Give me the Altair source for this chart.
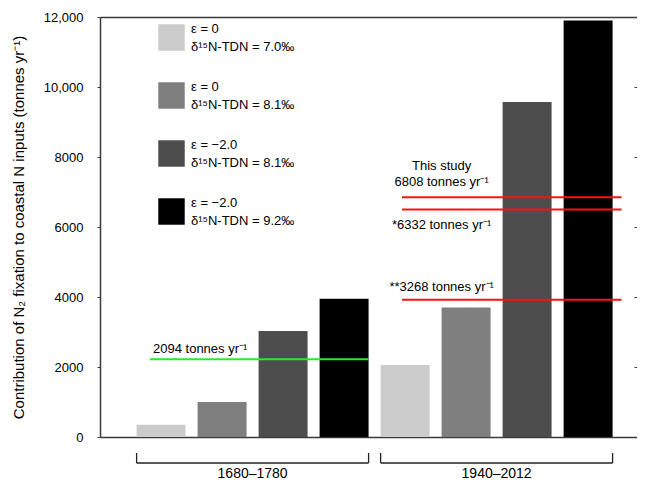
import altair as alt
import pandas as pd

# ---- data ----
periods = ["1680–1780", "1940–2012"]
scenarios = [
    "ε = 0|δ¹⁵N-TDN = 7.0‰",
    "ε = 0|δ¹⁵N-TDN = 8.1‰",
    "ε = −2.0|δ¹⁵N-TDN = 8.1‰",
    "ε = −2.0|δ¹⁵N-TDN = 9.2‰",
]
values_1680_1780 = [350, 1000, 3030, 3950]
values_1940_2012 = [2060, 3700, 9570, 11900]
bar_colors = ["#cbcbcb", "#7f7f7f", "#4d4d4d", "#000000"]

red_line_values = [6850, 6500, 3920]
green_line_values = [2220]
red_labels = ["This study", "6808 tonnes yr⁻¹", "*6332 tonnes yr⁻¹", "**3268 tonnes yr⁻¹"]
red_label_y = [7740, 7290, 6060, 4290]
green_labels = ["2094 tonnes yr⁻¹"]
green_label_y = [2510]
y_ticks = [0, 2000, 4000, 6000, 8000, 10000, 12000]
y_title = "Contribution of N₂ fixation to coastal N inputs (tonnes yr⁻¹)"

FONT = "Liberation Sans"

# ---- tables ----
rows = []
bar_order = []
for p, vals in zip(periods, [values_1680_1780, values_1940_2012]):
    for i, (s, v) in enumerate(zip(scenarios, vals)):
        key = f"{p} #{i + 1}"
        bar_order.append(key)
        rows.append({"bar": key, "period": p, "scenario": s, "value": v})
bars_df = pd.DataFrame(rows)

groups_df = pd.DataFrame({
    "period": periods,
    "first": [bar_order[0], bar_order[4]],
    "second": [bar_order[1], bar_order[5]],
    "last": [bar_order[3], bar_order[7]],
})

red_df = pd.DataFrame({"y": red_line_values, "start": bar_order[4], "end": bar_order[7]})
green_df = pd.DataFrame({"y": green_line_values, "start": bar_order[0], "end": bar_order[3]})
red_text_df = pd.DataFrame({"label": red_labels, "y": red_label_y, "bar": bar_order[5]})
green_text_df = pd.DataFrame({"label": green_labels, "y": green_label_y, "bar": bar_order[0]})

xscale = alt.Scale(domain=bar_order, paddingInner=0.197, paddingOuter=0.5, align=0.6)
yscale = alt.Scale(domain=[0, 12000], nice=False)

AX = "#3a3a3a"

bars = alt.Chart(bars_df).mark_bar().encode(
    x=alt.X("bar:N", scale=xscale, sort=bar_order,
            axis=alt.Axis(orient="bottom", labels=False, ticks=False, domain=True,
                          domainColor=AX, domainWidth=1.5, title=None)),
    y=alt.Y("value:Q", scale=yscale,
            axis=alt.Axis(values=y_ticks,
                          labelExpr="datum.value >= 10000 ? format(datum.value, ',') : format(datum.value, 'd')",
                          tickSize=3, labelPadding=14, labelFontSize=13, labelColor="#000",
                          tickColor=AX, domainColor=AX, domainWidth=1.5,
                          grid=False, title=y_title, titleFontSize=15, titleFontWeight="normal",
                          titleColor="#000", titlePadding=17)),
    color=alt.Color("scenario:N", scale=alt.Scale(domain=scenarios, range=bar_colors),
                    legend=alt.Legend(orient="none", legendX=58, legendY=7, title=None,
                                      symbolType="square", symbolSize=700, symbolStrokeWidth=0,
                                      symbolOpacity=1,
                                      labelExpr="split(datum.label, '|')",
                                      labelBaseline="line-bottom",
                                      labelFontSize=13, labelFont=FONT, labelColor="#000",
                                      labelOffset=6, rowPadding=26, padding=0,
                                      labelLimit=300)),
)

red_lines = alt.Chart(red_df).mark_rule(color="#ff1010", strokeWidth=2, x2Offset=9).encode(
    x=alt.X("start:N", scale=xscale, sort=bar_order, bandPosition=0.437,
            axis=alt.Axis(orient="top", labels=False, ticks=False, domain=True,
                          domainColor=AX, domainWidth=1.5, title=None)),
    x2=alt.X2("end:N", bandPosition=1),
    y=alt.Y("y:Q", scale=yscale,
            axis=alt.Axis(orient="right", offset=-3, values=y_ticks, labels=False,
                          domain=False, tickSize=3, tickColor=AX, grid=False, title=None)),
)

green_line = alt.Chart(green_df).mark_rule(color="#2ee82e", strokeWidth=2).encode(
    x=alt.X("start:N", scale=xscale, sort=bar_order, bandPosition=0.27, axis=None),
    x2=alt.X2("end:N", bandPosition=1.0),
    y=alt.Y("y:Q", scale=yscale, axis=None),
)

red_text = alt.Chart(red_text_df).mark_text(font=FONT, fontSize=13, align="center",
                                            baseline="middle", color="#000").encode(
    x=alt.X("bar:N", scale=xscale, sort=bar_order, bandPosition=0, axis=None),
    y=alt.Y("y:Q", scale=yscale, axis=None),
    text="label:N",
)

green_text = alt.Chart(green_text_df).mark_text(font=FONT, fontSize=13, align="left",
                                                baseline="middle", color="#000").encode(
    x=alt.X("bar:N", scale=xscale, sort=bar_order, bandPosition=0.335, axis=None),
    y=alt.Y("y:Q", scale=yscale, axis=None),
    text="label:N",
)

bracket_h = alt.Chart(groups_df).mark_rule(color="#222", strokeWidth=1.3).encode(
    x=alt.X("first:N", scale=xscale, sort=bar_order, bandPosition=0, axis=None),
    x2=alt.X2("last:N", bandPosition=1),
    y=alt.value(446),
)
bracket_l = alt.Chart(groups_df).mark_rule(color="#222", strokeWidth=1.3).encode(
    x=alt.X("first:N", scale=xscale, sort=bar_order, bandPosition=0, axis=None),
    y=alt.value(436), y2=alt.value(446),
)
bracket_r = alt.Chart(groups_df).mark_rule(color="#222", strokeWidth=1.3).encode(
    x=alt.X("last:N", scale=xscale, sort=bar_order, bandPosition=1, axis=None),
    y=alt.value(436), y2=alt.value(446),
)
bracket_text = alt.Chart(groups_df).mark_text(font=FONT, fontSize=14, align="center",
                                              baseline="middle", color="#000", dx=6).encode(
    x=alt.X("second:N", scale=xscale, sort=bar_order, bandPosition=1, axis=None),
    y=alt.value(457),
    text="period:N",
)

chart = alt.layer(
    bars, green_line, red_lines, red_text, green_text,
    bracket_h, bracket_l, bracket_r, bracket_text,
).resolve_axis(x="independent", y="independent").properties(
    width=537, height=420,
    autosize=alt.AutoSizeParams(type="none"),
    padding={"left": 92, "top": 9, "right": 0, "bottom": 44},
).configure_view(stroke=None).configure_axis(
    labelFont=FONT, titleFont=FONT
).configure_text(font=FONT).configure(
    style={"guide-label": {"lineHeight": 18}}
)

chart.save("out.html", embed_options={"renderer": "svg", "actions": False})
